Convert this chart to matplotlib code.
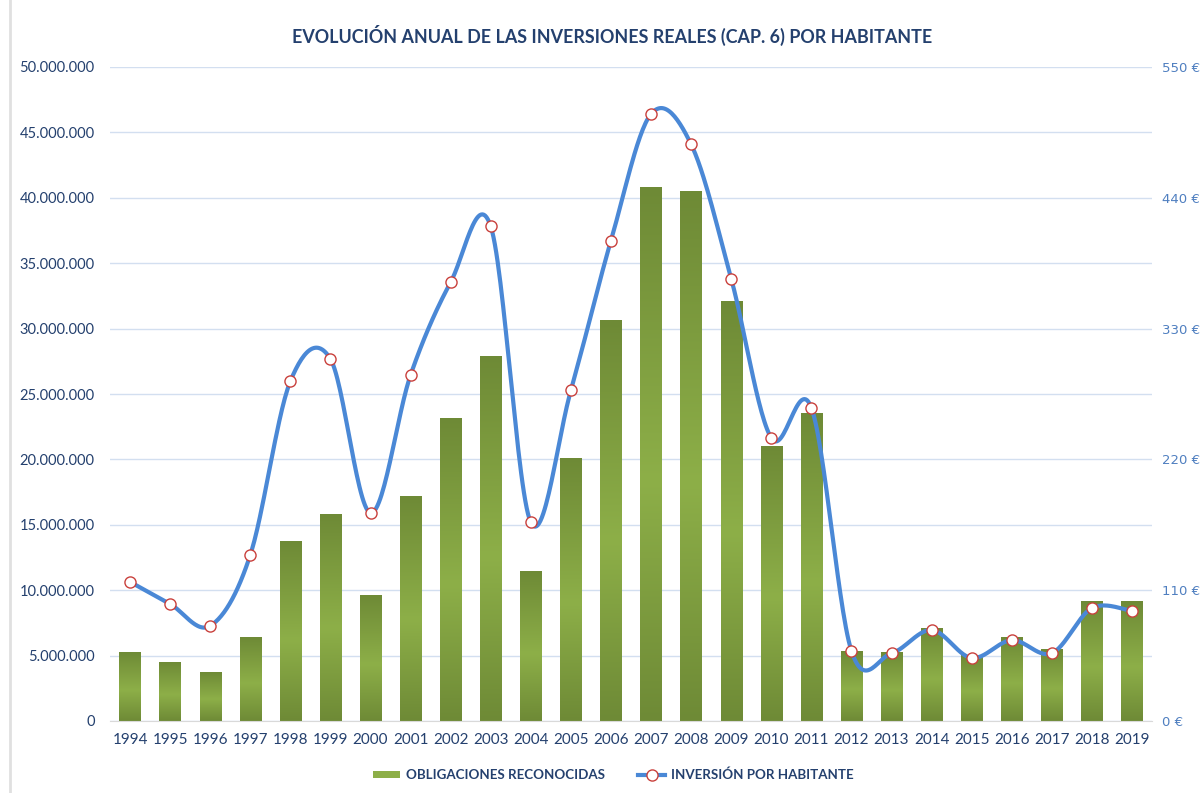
import numpy as np
import matplotlib
matplotlib.use("Agg")
import matplotlib.pyplot as plt
from matplotlib.colors import LinearSegmentedColormap
from matplotlib.lines import Line2D
from matplotlib.patches import Rectangle
from matplotlib.legend_handler import HandlerBase
from matplotlib.ticker import FuncFormatter, MultipleLocator

# ===================== 数据 =====================
years = list(range(1994, 2020))
obligaciones = [5.2e6, 4.5e6, 3.67e6, 6.35e6, 13.7e6, 15.75e6, 9.56e6, 17.2e6,
                23.1e6, 27.85e6, 11.4e6, 20.1e6, 30.6e6, 40.75e6, 40.5e6, 32.1e6,
                21.0e6, 23.5e6, 5.3e6, 5.2e6, 7.1e6, 5.0e6, 6.4e6, 5.5e6,
                9.1e6, 9.1e6]
inversion_hab = [117, 98.4, 80, 139.6, 285.7, 304.5, 175, 291, 369, 416,
                 167, 278, 404, 510.5, 485, 372, 238, 263.5, 59, 57,
                 76.5, 53, 68, 57, 95, 92.5]

TITLE = "EVOLUCIÓN ANUAL DE LAS INVERSIONES REALES (CAP. 6) POR HABITANTE"
LBL_BAR = "OBLIGACIONES RECONOCIDAS"
LBL_LINE = "INVERSIÓN POR HABITANTE"

# ===================== 样式 =====================
plt.rcParams["font.family"] = ["Lato", "DejaVu Sans"]
DARK_BLUE = "#24406e"
LIGHT_BLUE = "#4f7fc0"
GRID = "#d3dff0"
LINE_C = "#4a88d6"
MARK_EDGE = "#c9403c"
GREEN_DARK = "#6e8a36"
GREEN_LIGHT = "#8daf48"
green_cmap = LinearSegmentedColormap.from_list(
    "bar", [(0, GREEN_DARK), (0.55, GREEN_LIGHT), (1, GREEN_DARK)])


def smooth(x, y, n=30):
    """Excel 风格平滑曲线 (Catmull-Rom -> Bezier)"""
    x = np.asarray(x, float)
    y = np.asarray(y, float)
    xs, ys = [], []
    for i in range(len(x) - 1):
        p0 = np.array([x[max(i - 1, 0)], y[max(i - 1, 0)]])
        p1 = np.array([x[i], y[i]])
        p2 = np.array([x[i + 1], y[i + 1]])
        p3 = np.array([x[min(i + 2, len(x) - 1)], y[min(i + 2, len(x) - 1)]])
        c1 = p1 + (p2 - p0) / 6
        c2 = p2 - (p3 - p1) / 6
        t = np.linspace(0, 1, n)[:, None]
        pts = ((1 - t) ** 3) * p1 + 3 * ((1 - t) ** 2) * t * c1 + 3 * (1 - t) * t ** 2 * c2 + t ** 3 * p2
        xs.append(pts[:, 0])
        ys.append(pts[:, 1])
    return np.concatenate(xs), np.concatenate(ys)


class GradientHandler(HandlerBase):
    def create_artists(self, legend, orig_handle, xdescent, ydescent,
                       width, height, fontsize, trans):
        r = Rectangle((xdescent, ydescent + height * 0.1), width, height * 0.8,
                      facecolor=GREEN_LIGHT, edgecolor="none", transform=trans)
        return [r]


fig = plt.figure(figsize=(12, 7.93), dpi=100)
ax = fig.add_axes([110 / 1200, 1 - 721 / 793, 1042 / 1200, 654 / 793])
ax2 = ax.twinx()

x = np.arange(len(years))
bw = 0.53
grad = np.linspace(0, 1, 256)[:, None]
for xi, v in zip(x, obligaciones):
    ax.imshow(grad, cmap=green_cmap, extent=[xi - bw / 2, xi + bw / 2, 0, v],
              aspect="auto", origin="upper", zorder=2, interpolation="bilinear")

ax.set_xlim(-0.5, len(years) - 0.5)
ax.set_ylim(0, 50e6)
ax.yaxis.set_major_locator(MultipleLocator(5e6))
ax.yaxis.set_major_formatter(FuncFormatter(lambda v, p: f"{int(v):,}".replace(",", ".")))
ax.grid(axis="y", color=GRID, lw=1, zorder=0)
ax.set_axisbelow(True)
ax.set_xticks(x)
ax.set_xticklabels([str(y) for y in years])
ax.tick_params(axis="both", length=0, labelsize=10.5, colors=DARK_BLUE)
ax.tick_params(axis="x", pad=9, labelsize=11)
ax.tick_params(axis="y", pad=11)
for s in ["top", "right", "left"]:
    ax.spines[s].set_visible(False)
ax.spines["bottom"].set_color("#d9d9d9")
for s in ["top", "right", "left", "bottom"]:
    ax2.spines[s].set_visible(False)

sx, sy = smooth(x, inversion_hab)
ax2.plot(sx, sy, color=LINE_C, lw=3, zorder=3, solid_capstyle="round")
ax2.plot(x, inversion_hab, ls="none", marker="o", ms=8, mfc="white",
         mec=MARK_EDGE, mew=1.0, zorder=4)
ax2.set_ylim(0, 550)
ax2.set_yticks(np.arange(0, 551, 110))
ax2.yaxis.set_major_formatter(FuncFormatter(lambda v, p: f"{int(v)} €"))
ax2.tick_params(axis="y", length=0, labelsize=9.5, colors=LIGHT_BLUE, pad=7)
for t in ax2.get_yticklabels():
    t.set_family(["DejaVu Sans"])

fig.text(0.51, 1 - 35 / 793, TITLE, ha="center", va="center", fontsize=12.9,
         fontweight="bold", color=DARK_BLUE)

# 图表左边框
fig.add_artist(Line2D([10 / 1200, 10 / 1200], [0, 1], color="#e0e0e0", lw=2))

bar_handle = Rectangle((0, 0), 1, 1)
line_handle = Line2D([], [], color=LINE_C, lw=3, marker="o", ms=8, mfc="white",
                     mec=MARK_EDGE, mew=1.0)
leg = fig.legend([bar_handle, line_handle], [LBL_BAR, LBL_LINE],
                 loc="center", bbox_to_anchor=(0.511, 1 - 775 / 793), ncol=2,
                 frameon=False, handlelength=2.05, handletextpad=0.4,
                 columnspacing=2.5, handler_map={Rectangle: GradientHandler()},
                 prop={"weight": "bold", "size": 9.6})
for t in leg.get_texts():
    t.set_color(DARK_BLUE)

fig.savefig("out.png", dpi=100)
